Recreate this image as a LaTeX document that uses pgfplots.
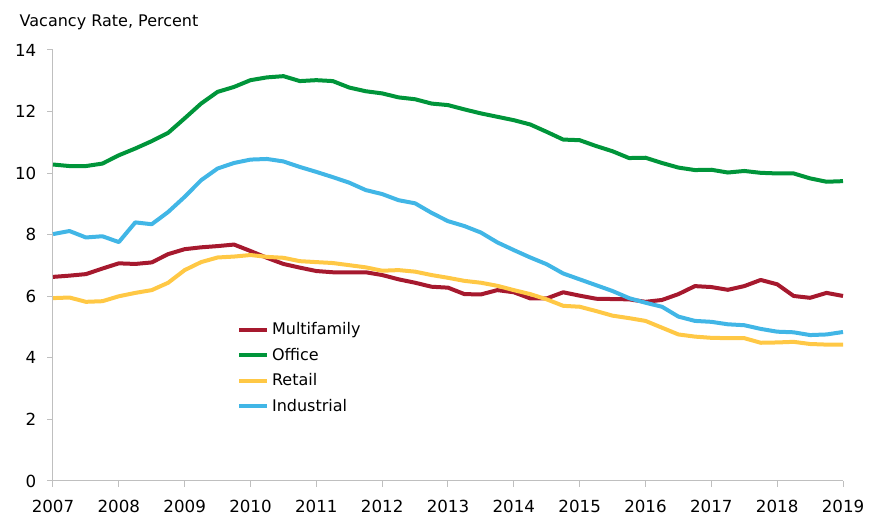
\documentclass[border=0pt]{standalone}
\usepackage{fontspec}
\setmainfont{DejaVu Sans}
\usepackage{pgfplots}
\pgfplotsset{compat=1.18}
\usepackage{pgfplotstable}

\definecolor{cMulti}{HTML}{A6192E}
\definecolor{cOffice}{HTML}{00953A}
\definecolor{cRetail}{HTML}{FFC845}
\definecolor{cIndus}{HTML}{41B6E6}
\definecolor{axgray}{HTML}{BFBFBF}

% quarterly vacancy rates, percent
\pgfplotstableread{
x       multi  office retail indus
2007.00 6.63   10.28  5.94   8.02
2007.25 6.67   10.23  5.96   8.12
2007.50 6.72   10.23  5.82   7.91
2007.75 6.90   10.31  5.84   7.95
2008.00 7.07   10.58  6.00   7.76
2008.25 7.05   10.80  6.11   8.40
2008.50 7.10   11.04  6.20   8.34
2008.75 7.37   11.31  6.44   8.74
2009.00 7.53   11.78  6.85   9.23
2009.25 7.59   12.26  7.11   9.77
2009.50 7.63   12.64  7.26   10.15
2009.75 7.68   12.80  7.29   10.33
2010.00 7.47   13.02  7.34   10.44
2010.25 7.25   13.11  7.28   10.46
2010.50 7.05   13.15  7.25   10.38
2010.75 6.93   12.99  7.14   10.20
2011.00 6.82   13.02  7.11   10.04
2011.25 6.78   12.99  7.08   9.87
2011.50 6.78   12.78  7.01   9.69
2011.75 6.78   12.66  6.94   9.45
2012.00 6.69   12.59  6.83   9.32
2012.25 6.55   12.46  6.85   9.12
2012.50 6.44   12.40  6.80   9.02
2012.75 6.31   12.26  6.69   8.71
2013.00 6.28   12.21  6.60   8.44
2013.25 6.07   12.07  6.50   8.28
2013.50 6.06   11.94  6.44   8.07
2013.75 6.20   11.83  6.34   7.75
2014.00 6.13   11.72  6.20   7.50
2014.25 5.93   11.58  6.07   7.26
2014.50 5.93   11.34  5.90   7.04
2014.75 6.13   11.09  5.69   6.74
2015.00 6.02   11.07  5.66   6.55
2015.25 5.92   10.88  5.52   6.36
2015.50 5.91   10.71  5.37   6.17
2015.75 5.90   10.49  5.29   5.94
2016.00 5.82   10.50  5.20   5.79
2016.25 5.88   10.33  4.98   5.66
2016.50 6.07   10.18  4.76   5.34
2016.75 6.33   10.10  4.69   5.20
2017.00 6.30   10.11  4.65   5.17
2017.25 6.21   10.02  4.64   5.09
2017.50 6.33   10.07  4.64   5.06
2017.75 6.53   10.01  4.49   4.94
2018.00 6.39   9.99   4.50   4.85
2018.25 6.01   9.99   4.52   4.83
2018.50 5.95   9.83   4.45   4.74
2018.75 6.11   9.72   4.43   4.76
2019.00 6.01   9.74   4.43   4.84
}\vacancy

\begin{document}
\begin{tikzpicture}
\begin{axis}[
    scale only axis, width=592.5pt, height=323.25pt,
    xmin=2007, xmax=2019, ymin=0, ymax=14,
    axis lines=left,
    axis line style={draw=axgray, line width=0.75pt, -},
    xtick={2007,2008,...,2019}, ytick={0,2,...,14},
    tick align=outside, major tick length=4.5pt,
    tick style={draw=axgray, line width=0.75pt},
    /pgf/number format/1000 sep={},
    /pgf/number format/assume math mode=true,
    ticklabel style={font=\fontsize{12.5}{15}\selectfont},
    xticklabel style={yshift=-6pt},
    yticklabel style={xshift=-4.5pt},
    clip=false,
    legend style={at={(rel axis cs:0.228,0.380)}, anchor=north west,
        draw=none, fill=none, font=\fontsize{12}{14}\selectfont,
        row sep=4.5pt},
    legend cell align=left,
    legend image code/.code={\draw[#1] (0pt,0pt) -- (21pt,0pt);},
    every axis plot/.append style={line width=3pt, line join=round},
]
\addplot[cMulti]  table[x=x, y=multi]  {\vacancy};
\addlegendentry{Multifamily}
\addplot[cOffice] table[x=x, y=office] {\vacancy};
\addlegendentry{Office}
\addplot[cRetail] table[x=x, y=retail] {\vacancy};
\addlegendentry{Retail}
\addplot[cIndus]  table[x=x, y=indus]  {\vacancy};
\addlegendentry{Industrial}
\end{axis}
\node[anchor=base west, font=\fontsize{12}{14}\selectfont] at (-28.5pt,340.7pt) {Vacancy Rate, Percent};
\pgfresetboundingbox
\useasboundingbox (-39.75pt,-26.25pt) rectangle (613.5pt,360.75pt);
\end{tikzpicture}
\end{document}
